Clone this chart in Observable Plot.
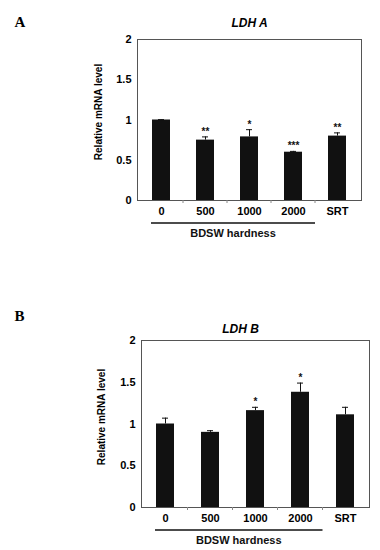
<!DOCTYPE html>
<html><head><meta charset="utf-8">
<script src="https://cdn.jsdelivr.net/npm/d3@7"></script>
<script src="https://cdn.jsdelivr.net/npm/@observablehq/plot@0.6"></script>
<style>
body{margin:0;background:#fff}
#wrap{position:relative;width:380px;height:550px;overflow:hidden}
.panel{position:absolute;left:0}
</style>
</head><body><div id="wrap"></div>
<script>
const categories = ["0", "500", "1000", "2000", "SRT"];
const groupedCats = ["0", "500", "1000", "2000"];
const ldhA = [1.0, 0.75, 0.79, 0.60, 0.80];
const ldhAErr = [0.005, 0.04, 0.09, 0.01, 0.04];
const ldhAStars = ["", "**", "*", "***", "**"];
const ldhB = [1.0, 0.90, 1.16, 1.38, 1.11];
const ldhBErr = [0.07, 0.02, 0.04, 0.11, 0.09];
const ldhBStars = ["", "", "*", "*", ""];
const yTicks = [0, 0.5, 1, 1.5, 2];
const yTickLabels = ["0", "0.5", "1", "1.5", "2"];
const yLabel = "Relative mRNA level";
const xGroupLabel = "BDSW hardness";
const titles = ["LDH A", "LDH B"];
const panelLetters = ["A", "B"];

const FONT = '"Liberation Sans", Arial, sans-serif';

function panel(o) {
  const data = categories.map((c, i) => ({cat: c, v: o.values[i], e: o.errs[i], star: o.stars[i]}));
  const chart = Plot.plot({
    width: 380, height: o.height,
    marginLeft: o.ml, marginRight: o.mr, marginTop: o.mt, marginBottom: o.mb,
    style: {fontFamily: FONT, fontWeight: "bold", fontSize: "11px", color: "#000", background: "transparent"},
    x: {domain: categories, paddingInner: 0.6, paddingOuter: 0.3, label: null},
    y: {domain: [0, 2], label: null},
    marks: [
      Plot.barY(data, {x: "cat", y: "v", fill: "#111"}),
      Plot.ruleX(data, {x: "cat", y1: "v", y2: d => d.v + d.e, stroke: "#111", strokeWidth: 1}),
      Plot.tickY(data, {x: "cat", y: d => d.v + d.e, stroke: "#111", strokeWidth: 1, insetLeft: 6, insetRight: 6}),
      Plot.text(data, {x: "cat", y: d => d.v + d.e, text: "star", lineAnchor: "bottom", dy: -2, fontSize: 10, fill: "#111"}),
      Plot.frame({stroke: "#555", strokeWidth: 1}),
      Plot.axisY({ticks: yTicks, tickFormat: d => yTickLabels[yTicks.indexOf(d)], tickSize: 0, tickPadding: 6, fontSize: 11, label: null}),
      Plot.axisX({tickSize: 0, tickPadding: 7, fontSize: 11, label: null}),
      Plot.text([o.title], {frameAnchor: "top", dy: o.titleDy, dx: o.titleDx, fontStyle: "italic", fontWeight: "bold", fontSize: 12}),
      Plot.text([o.letter], {frameAnchor: "top-left", dx: o.letterDx, dy: o.letterDy, fontFamily: '"Liberation Serif", "Times New Roman", serif', fontWeight: "bold", fontSize: 15}),
      Plot.text([yLabel], {frameAnchor: "left", textAnchor: "middle", rotate: -90, dx: o.ylabDx, dy: o.ylabDy, fontSize: 10, fontWeight: "bold"})
    ]
  });
  const x = chart.scale("x"), y = chart.scale("y");
  const svg = d3.select(chart);
  const bw = x.bandwidth, step = x.step;
  const bottom = y.apply(0);
  const g = svg.append("g");
  for (let i = 0; i < categories.length - 1; i++) {
    const bx = x.apply(categories[i]) + bw + (step - bw) / 2;
    g.append("line").attr("x1", bx).attr("x2", bx).attr("y1", bottom).attr("y2", bottom + 3).attr("stroke", "#888");
  }
  const ux1 = x.apply(groupedCats[0]) - 1;
  const last = groupedCats[groupedCats.length - 1];
  const ux2 = x.apply(last) + bw + (step - bw) / 2;
  g.append("line").attr("x1", ux1).attr("x2", ux2).attr("y1", bottom + 23).attr("y2", bottom + 23).attr("stroke", "#111").attr("stroke-width", 1.3);
  g.append("text").attr("x", (ux1 + ux2) / 2).attr("y", bottom + 33).attr("dy", "0.35em")
    .attr("text-anchor", "middle").attr("font-family", FONT).attr("font-weight", "bold").attr("font-size", 11).attr("fill", "#111")
    .text(xGroupLabel);
  chart.classList.add("panel");
  chart.style.top = o.top + "px";
  return chart;
}

const wrap = document.getElementById("wrap");
wrap.appendChild(panel({
  values: ldhA, errs: ldhAErr, stars: ldhAStars, title: titles[0], letter: panelLetters[0],
  top: 0, height: 250, ml: 137, mr: 19, mt: 39, mb: 50,
  titleDy: -21, titleDx: 0, letterDx: -123, letterDy: -23, ylabDx: -39, ylabDy: -8
}));
wrap.appendChild(panel({
  values: ldhB, errs: ldhBErr, stars: ldhBStars, title: titles[1], letter: panelLetters[1],
  top: 270, height: 280, ml: 141, mr: 11, mt: 70, mb: 43,
  titleDy: -16, titleDx: -15, letterDx: -127, letterDy: -30, ylabDx: -40, ylabDy: -7
}));
</script>
</body></html>
